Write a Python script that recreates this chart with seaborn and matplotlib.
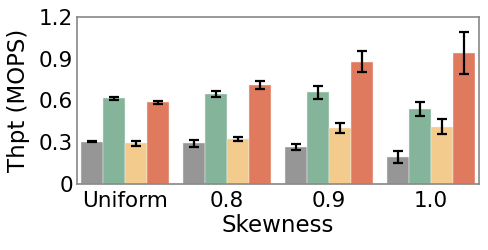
import matplotlib
matplotlib.use("Agg")
import matplotlib.pyplot as plt
import seaborn as sns
import pandas as pd
import numpy as np

categories = ["Uniform", "0.8", "0.9", "1.0"]
series = ["S1", "S2", "S3", "S4"]
values = {
    "S1": [0.304, 0.292, 0.266, 0.192],
    "S2": [0.616, 0.647, 0.659, 0.536],
    "S3": [0.292, 0.323, 0.405, 0.412],
    "S4": [0.587, 0.711, 0.879, 0.939],
}
errors = {
    "S1": [0.002, 0.023, 0.019, 0.042],
    "S2": [0.010, 0.022, 0.045, 0.050],
    "S3": [0.020, 0.017, 0.035, 0.055],
    "S4": [0.010, 0.031, 0.077, 0.151],
}
colors = ["#969696", "#84b59b", "#f2cb8d", "#e07a5f"]
yticks = [0, 0.3, 0.6, 0.9, 1.2]
yticklabels = ["0", "0.3", "0.6", "0.9", "1.2"]

rows = []
for s in series:
    for c, v, e in zip(categories, values[s], errors[s]):
        rows.append({"cat": c, "series": s, "val": v, "err": e})
df = pd.DataFrame(rows)

sns.set_theme(style="white")
plt.rcParams["font.family"] = ["DejaVu Sans"]

fig = plt.figure(figsize=(4.88, 2.5), dpi=100)
ax = fig.add_axes([0.158, 0.264, 0.824, 0.668])

sns.barplot(data=df, x="cat", y="val", hue="series", order=categories,
            hue_order=series, palette=colors, errorbar=None, width=0.86,
            saturation=1, edgecolor="#f4f4f4", linewidth=0.3, ax=ax, legend=False)

# error bars at bar centers (patches ordered by hue, then category)
patches = [p for p in ax.patches if p.get_height() > 0]
for i, s in enumerate(series):
    for j in range(len(categories)):
        p = patches[i * len(categories) + j]
        xc = p.get_x() + p.get_width() / 2
        ax.errorbar(xc, values[s][j], yerr=errors[s][j], fmt="none",
                    ecolor="black", elinewidth=1.6, capsize=3.3, capthick=1.6,
                    zorder=5)

ax.set_xlim(-0.47, 3.47)
ax.set_ylim(0, 1.2)
ax.set_yticks(yticks)
ax.set_yticklabels(yticklabels)
ax.tick_params(axis="y", labelsize=15.5, length=0, pad=3, colors="black")
ax.tick_params(axis="x", labelsize=15.5, length=0, pad=5, colors="black")
ax.set_xlabel("Skewness", fontsize=16.5, labelpad=2, color="black")
ax.set_ylabel("Thpt (MOPS)", fontsize=16.5, labelpad=6, color="black")
for sp in ax.spines.values():
    sp.set_color("#888888")
    sp.set_linewidth(1.2)

fig.savefig("out.png", dpi=100)
